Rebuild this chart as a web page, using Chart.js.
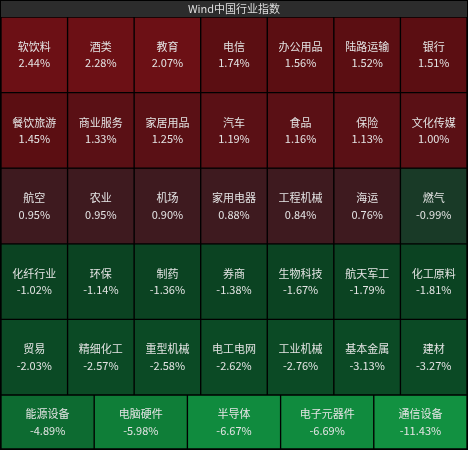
<!DOCTYPE html>
<html>
<head>
<meta charset="utf-8">
<script src="https://cdn.jsdelivr.net/npm/chart.js@4.4.1/dist/chart.umd.min.js"></script>
<style>
  html, body { margin: 0; padding: 0; background: #000; }
  #wrap { position: relative; width: 468px; height: 450px; background: #000; overflow: hidden; }
  #boxA { position: absolute; left: 0; top: 0; width: 468px; height: 395px; }
  #boxB { position: absolute; left: 0; top: 395px; width: 468px; height: 55px; }
</style>
</head>
<body>
<div id="wrap">
  <div id="boxA"><canvas id="chartA"></canvas></div>
  <div id="boxB"><canvas id="chartB"></canvas></div>
</div>
<script>
// ---- Data ----
const chartTitle = 'Wind中国行业指数';
const columns = ['1', '2', '3', '4', '5', '6', '7'];
const row1Names = ['软饮料', '酒类', '教育', '电信', '办公用品', '陆路运输', '银行'];
const row1Changes = [2.44, 2.28, 2.07, 1.74, 1.56, 1.52, 1.51];
const row2Names = ['餐饮旅游', '商业服务', '家居用品', '汽车', '食品', '保险', '文化传媒'];
const row2Changes = [1.45, 1.33, 1.25, 1.19, 1.16, 1.13, 1.00];
const row3Names = ['航空', '农业', '机场', '家用电器', '工程机械', '海运', '燃气'];
const row3Changes = [0.95, 0.95, 0.90, 0.88, 0.84, 0.76, -0.99];
const row4Names = ['化纤行业', '环保', '制药', '券商', '生物科技', '航天军工', '化工原料'];
const row4Changes = [-1.02, -1.14, -1.36, -1.38, -1.67, -1.79, -1.81];
const row5Names = ['贸易', '精细化工', '重型机械', '电工电网', '工业机械', '基本金属', '建材'];
const row5Changes = [-2.03, -2.57, -2.58, -2.62, -2.76, -3.13, -3.27];
const bottomColumns = ['1', '2', '3', '4', '5'];
const row6Names = ['能源设备', '电脑硬件', '半导体', '电子元器件', '通信设备'];
const row6Changes = [-4.89, -5.98, -6.67, -6.69, -11.43];

// ---- Styling helpers ----
function cellColor(v) {
  if (v >= 2) return '#6c1015';
  if (v >= 1.45) return '#5b0e12';
  if (v >= 1) return '#5a1015';
  if (v >= 0) return '#3e1a1f';
  if (v >= -1) return '#193a27';
  if (v >= -2) return '#0b4322';
  if (v >= -4) return '#0b4a25';
  if (v >= -5) return '#0d6b31';
  if (v >= -6) return '#0f7e38';
  if (v >= -10) return '#108b3e';
  return '#129141';
}

const labelPlugin = {
  id: 'cellLabels',
  afterDatasetsDraw(chart) {
    const ctx = chart.ctx;
    ctx.save();
    ctx.textAlign = 'center';
    ctx.textBaseline = 'middle';
    ctx.fillStyle = '#e4e4e4';
    ctx.font = '11px "Noto Sans CJK SC", "Microsoft YaHei", sans-serif';
    chart.data.datasets.forEach((ds, di) => {
      const meta = chart.getDatasetMeta(di);
      meta.data.forEach((el, i) => {
        const c = el.getCenterPoint();
        ctx.fillText(ds.names[i], c.x, c.y - 8);
        ctx.fillText(ds.changes[i].toFixed(2) + '%', c.x, c.y + 8.5);
      });
    });
    ctx.restore();
  }
};

const titleBgPlugin = {
  id: 'titleBg',
  beforeDraw(chart) {
    const ctx = chart.ctx;
    ctx.save();
    ctx.fillStyle = '#2c2c2c';
    ctx.fillRect(1, 1, chart.width - 2, chart.chartArea.top - 1);
    ctx.restore();
  }
};

function makeDataset(names, changes) {
  return {
    names: names,
    changes: changes,
    data: changes.map(() => 1),
    backgroundColor: changes.map(cellColor),
    borderColor: '#000000',
    borderWidth: 1,
    borderSkipped: false,
    barPercentage: 1,
    categoryPercentage: 1
  };
}

const commonScales = (rows) => ({
  x: { type: 'category', stacked: true, display: false, offset: true, grid: { display: false } },
  y: { type: 'linear', stacked: true, display: false, min: 0, max: rows, reverse: true, grid: { display: false } }
});

new Chart(document.getElementById('chartA'), {
  type: 'bar',
  data: {
    labels: columns,
    datasets: [
      makeDataset(row1Names, row1Changes),
      makeDataset(row2Names, row2Changes),
      makeDataset(row3Names, row3Changes),
      makeDataset(row4Names, row4Changes),
      makeDataset(row5Names, row5Changes)
    ]
  },
  options: {
    responsive: true,
    maintainAspectRatio: false,
    animation: false,
    layout: { padding: { left: 1, right: 1, top: 1, bottom: 0 } },
    scales: commonScales(5),
    plugins: {
      legend: { display: false },
      tooltip: { enabled: false },
      title: {
        display: true,
        text: chartTitle,
        color: '#dedede',
        font: { size: 11, family: '"Noto Sans CJK SC", "Microsoft YaHei", sans-serif', weight: 'normal' },
        padding: { top: 1.4, bottom: 1.4 }
      }
    }
  },
  plugins: [titleBgPlugin, labelPlugin]
});

new Chart(document.getElementById('chartB'), {
  type: 'bar',
  data: {
    labels: bottomColumns,
    datasets: [ makeDataset(row6Names, row6Changes) ]
  },
  options: {
    responsive: true,
    maintainAspectRatio: false,
    animation: false,
    layout: { padding: { left: 1, right: 1, top: 0, bottom: 1 } },
    scales: commonScales(1),
    plugins: {
      legend: { display: false },
      tooltip: { enabled: false },
      title: { display: false }
    }
  },
  plugins: [labelPlugin]
});
</script>
</body>
</html>
